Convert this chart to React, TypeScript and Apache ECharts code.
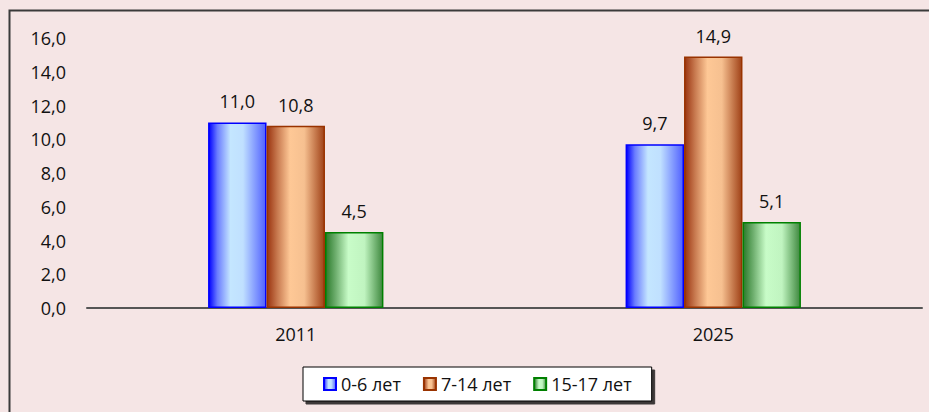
import React, { useEffect, useRef } from "react";
import * as echarts from "echarts";

const categories = ["2011", "2025"];
const seriesNames = ["0-6 лет", "7-14 лет", "15-17 лет"];
const values0to6 = [11.0, 9.7];
const values7to14 = [10.8, 14.9];
const values15to17 = [4.5, 5.1];

const FONT = "'Open Sans', sans-serif";
const fmt = (v: number) => v.toFixed(1).replace(".", ",");

const grad = (stops: [number, string][]) =>
  new echarts.graphic.LinearGradient(
    0, 0, 1, 0,
    stops.map(([offset, color]) => ({ offset, color }))
  );

export default function App() {
  const ref = useRef<HTMLDivElement>(null);
  useEffect(() => {
    document.body.style.margin = "0";
    const chart = echarts.init(ref.current!, null, { renderer: "svg" });
    const styles = [
      {
        color: grad([[0, "#0000ff"], [0.15, "#6a7cff"], [0.38, "#c4e6ff"], [0.6, "#c0e0ff"], [1, "#5060ff"]]),
        borderColor: "#0000ff",
      },
      {
        color: grad([[0, "#9a3410"], [0.18, "#c87a50"], [0.4, "#fec896"], [0.65, "#f6c090"], [1, "#a04218"]]),
        borderColor: "#993300",
      },
      {
        color: grad([[0, "#2a7a2a"], [0.18, "#70b070"], [0.4, "#c8fcc8"], [0.68, "#c0f4c0"], [1, "#3e883e"]]),
        borderColor: "#008000",
      },
    ];
    const data = [values0to6, values7to14, values15to17];
    chart.setOption({
      animation: false,
      backgroundColor: "#f5e5e5",
      textStyle: { fontFamily: FONT },
      grid: { left: 87, right: 7, top: 38, bottom: 104 },
      xAxis: {
        type: "category",
        data: categories,
        axisLine: { lineStyle: { color: "#555555", width: 2 } },
        axisTick: { show: false },
        axisLabel: { color: "#111", fontSize: 18, margin: 17, fontFamily: FONT },
      },
      yAxis: {
        type: "value",
        min: 0,
        max: 16,
        interval: 2,
        splitLine: { show: false },
        axisLine: { show: false },
        axisTick: { show: false },
        axisLabel: { color: "#111", fontSize: 18, margin: 21, fontFamily: FONT, formatter: fmt },
      },
      legend: {
        left: 303,
        top: 367,
        padding: [8, 20, 8, 20],
        itemGap: 22,
        itemWidth: 12,
        itemHeight: 12,
        backgroundColor: "#ffffff",
        borderColor: "#000000",
        borderWidth: 1,
        borderRadius: 0,
        shadowColor: "rgba(0,0,0,0.75)",
        shadowBlur: 0,
        shadowOffsetX: 3,
        shadowOffsetY: 3,
        icon: "rect",
        textStyle: { color: "#111", fontSize: 18, fontFamily: FONT },
        data: seriesNames,
      },
      graphic: [
        {
          type: "rect",
          z: 100,
          silent: true,
          shape: { x: 9.5, y: 10.5, width: 1000, height: 1000 },
          style: { fill: "none", stroke: "#3a3a3a", lineWidth: 2 },
        },
      ],
      series: seriesNames.map((name, i) => ({
        name,
        type: "bar",
        data: data[i],
        barGap: "0%",
        barCategoryGap: "58%",
        itemStyle: { ...styles[i], borderWidth: 1.5 },
        label: {
          show: true,
          position: "top",
          distance: 12,
          color: "#111",
          fontSize: 18,
          fontFamily: FONT,
          formatter: (p: any) => fmt(p.value),
        },
      })),
    });
    return () => chart.dispose();
  }, []);
  return <div ref={ref} style={{ width: 929, height: 412 }} />;
}
